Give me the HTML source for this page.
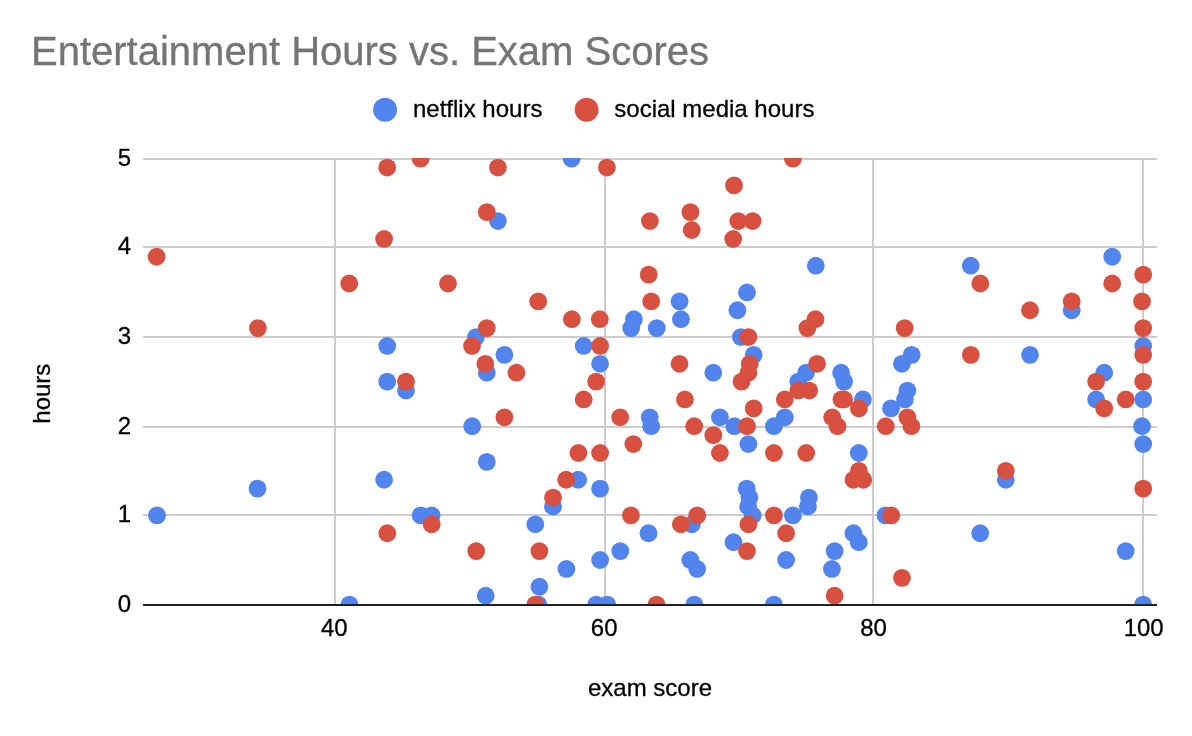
<!DOCTYPE html>
<html><head><meta charset="utf-8"><title>Entertainment Hours vs. Exam Scores</title>
<style>
html,body{margin:0;padding:0;background:#fff;}
body{width:1192px;height:736px;overflow:hidden;}
svg{display:block;}
text{font-family:"Liberation Sans",sans-serif;filter:grayscale(1);}
.k{stroke:#000;stroke-width:0.3px;}
</style></head><body>
<svg width="1192" height="736" viewBox="0 0 1192 736">
<rect x="0" y="0" width="1192" height="736" fill="#ffffff"/>
<defs><clipPath id="plot"><rect x="143" y="158" width="1014" height="447"/></clipPath></defs>
<text x="31" y="64.7" font-size="40" fill="#757575" stroke="#757575" stroke-width="0.35">Entertainment Hours vs. Exam Scores</text>
<circle cx="385.1" cy="109.7" r="12" fill="#5184ec"/>
<text x="413" y="116.6" font-size="24" fill="#000" class="k">netflix hours</text>
<circle cx="586.6" cy="109.7" r="12" fill="#d85140"/>
<text x="614.3" y="116.6" font-size="24" fill="#000" class="k">social media hours</text>

<rect x="143" y="158" width="1014" height="2" fill="#cccccc"/>
<rect x="143" y="246" width="1014" height="2" fill="#cccccc"/>
<rect x="143" y="336" width="1014" height="2" fill="#cccccc"/>
<rect x="143" y="426" width="1014" height="2" fill="#cccccc"/>
<rect x="143" y="514" width="1014" height="2" fill="#cccccc"/>
<rect x="334" y="158" width="2" height="447" fill="#cccccc"/>
<rect x="604" y="158" width="2" height="447" fill="#cccccc"/>
<rect x="872" y="158" width="2" height="447" fill="#cccccc"/>
<rect x="1142" y="158" width="2" height="447" fill="#cccccc"/>
<g clip-path="url(#plot)">
<circle cx="571.6" cy="158.65" r="8.9" fill="#5184ec"/>
<circle cx="497.9" cy="221.08" r="8.9" fill="#5184ec"/>
<circle cx="679.6" cy="301.35" r="8.9" fill="#5184ec"/>
<circle cx="680.9" cy="319.19" r="8.9" fill="#5184ec"/>
<circle cx="633.9" cy="319.19" r="8.9" fill="#5184ec"/>
<circle cx="631.2" cy="328.11" r="8.9" fill="#5184ec"/>
<circle cx="656.8" cy="328.11" r="8.9" fill="#5184ec"/>
<circle cx="737.4" cy="310.27" r="8.9" fill="#5184ec"/>
<circle cx="747.0" cy="292.44" r="8.9" fill="#5184ec"/>
<circle cx="476.0" cy="337.03" r="8.9" fill="#5184ec"/>
<circle cx="815.8" cy="265.68" r="8.9" fill="#5184ec"/>
<circle cx="970.7" cy="265.68" r="8.9" fill="#5184ec"/>
<circle cx="740.9" cy="337.03" r="8.9" fill="#5184ec"/>
<circle cx="1112.2" cy="256.76" r="8.9" fill="#5184ec"/>
<circle cx="1071.7" cy="310.27" r="8.9" fill="#5184ec"/>
<circle cx="387.2" cy="345.95" r="8.9" fill="#5184ec"/>
<circle cx="387.2" cy="381.62" r="8.9" fill="#5184ec"/>
<circle cx="406.0" cy="390.54" r="8.9" fill="#5184ec"/>
<circle cx="384.1" cy="479.73" r="8.9" fill="#5184ec"/>
<circle cx="257.5" cy="488.65" r="8.9" fill="#5184ec"/>
<circle cx="157.0" cy="515.41" r="8.9" fill="#5184ec"/>
<circle cx="420.7" cy="515.41" r="8.9" fill="#5184ec"/>
<circle cx="431.6" cy="515.41" r="8.9" fill="#5184ec"/>
<circle cx="504.4" cy="354.87" r="8.9" fill="#5184ec"/>
<circle cx="486.8" cy="372.71" r="8.9" fill="#5184ec"/>
<circle cx="583.7" cy="345.95" r="8.9" fill="#5184ec"/>
<circle cx="600.1" cy="363.79" r="8.9" fill="#5184ec"/>
<circle cx="472.2" cy="426.22" r="8.9" fill="#5184ec"/>
<circle cx="486.8" cy="461.90" r="8.9" fill="#5184ec"/>
<circle cx="578.2" cy="479.73" r="8.9" fill="#5184ec"/>
<circle cx="600.1" cy="488.65" r="8.9" fill="#5184ec"/>
<circle cx="553.0" cy="506.49" r="8.9" fill="#5184ec"/>
<circle cx="713.3" cy="372.71" r="8.9" fill="#5184ec"/>
<circle cx="649.7" cy="417.30" r="8.9" fill="#5184ec"/>
<circle cx="651.2" cy="426.22" r="8.9" fill="#5184ec"/>
<circle cx="719.9" cy="417.30" r="8.9" fill="#5184ec"/>
<circle cx="734.3" cy="426.22" r="8.9" fill="#5184ec"/>
<circle cx="753.7" cy="354.87" r="8.9" fill="#5184ec"/>
<circle cx="806.1" cy="372.71" r="8.9" fill="#5184ec"/>
<circle cx="798.3" cy="381.62" r="8.9" fill="#5184ec"/>
<circle cx="841.1" cy="372.71" r="8.9" fill="#5184ec"/>
<circle cx="844.1" cy="381.62" r="8.9" fill="#5184ec"/>
<circle cx="862.9" cy="399.46" r="8.9" fill="#5184ec"/>
<circle cx="784.8" cy="417.30" r="8.9" fill="#5184ec"/>
<circle cx="773.9" cy="426.22" r="8.9" fill="#5184ec"/>
<circle cx="891.0" cy="408.38" r="8.9" fill="#5184ec"/>
<circle cx="748.4" cy="444.06" r="8.9" fill="#5184ec"/>
<circle cx="858.8" cy="452.98" r="8.9" fill="#5184ec"/>
<circle cx="746.7" cy="488.65" r="8.9" fill="#5184ec"/>
<circle cx="749.4" cy="497.57" r="8.9" fill="#5184ec"/>
<circle cx="808.9" cy="497.57" r="8.9" fill="#5184ec"/>
<circle cx="748.1" cy="506.49" r="8.9" fill="#5184ec"/>
<circle cx="752.6" cy="515.41" r="8.9" fill="#5184ec"/>
<circle cx="807.9" cy="506.49" r="8.9" fill="#5184ec"/>
<circle cx="792.9" cy="515.41" r="8.9" fill="#5184ec"/>
<circle cx="733.5" cy="542.17" r="8.9" fill="#5184ec"/>
<circle cx="786.1" cy="560.00" r="8.9" fill="#5184ec"/>
<circle cx="853.4" cy="533.25" r="8.9" fill="#5184ec"/>
<circle cx="858.8" cy="542.17" r="8.9" fill="#5184ec"/>
<circle cx="834.6" cy="551.09" r="8.9" fill="#5184ec"/>
<circle cx="831.9" cy="568.92" r="8.9" fill="#5184ec"/>
<circle cx="885.5" cy="515.41" r="8.9" fill="#5184ec"/>
<circle cx="773.9" cy="604.60" r="8.9" fill="#5184ec"/>
<circle cx="911.7" cy="354.87" r="8.9" fill="#5184ec"/>
<circle cx="901.9" cy="363.79" r="8.9" fill="#5184ec"/>
<circle cx="907.4" cy="390.54" r="8.9" fill="#5184ec"/>
<circle cx="904.9" cy="399.46" r="8.9" fill="#5184ec"/>
<circle cx="1030.0" cy="354.87" r="8.9" fill="#5184ec"/>
<circle cx="1005.8" cy="479.73" r="8.9" fill="#5184ec"/>
<circle cx="980.2" cy="533.25" r="8.9" fill="#5184ec"/>
<circle cx="1104.2" cy="372.71" r="8.9" fill="#5184ec"/>
<circle cx="1096.1" cy="399.46" r="8.9" fill="#5184ec"/>
<circle cx="1143.2" cy="345.95" r="8.9" fill="#5184ec"/>
<circle cx="1143.2" cy="399.46" r="8.9" fill="#5184ec"/>
<circle cx="1142.0" cy="426.22" r="8.9" fill="#5184ec"/>
<circle cx="1143.2" cy="444.06" r="8.9" fill="#5184ec"/>
<circle cx="1125.7" cy="551.09" r="8.9" fill="#5184ec"/>
<circle cx="1143.1" cy="604.60" r="8.9" fill="#5184ec"/>
<circle cx="349.5" cy="604.60" r="8.9" fill="#5184ec"/>
<circle cx="485.7" cy="595.68" r="8.9" fill="#5184ec"/>
<circle cx="535.3" cy="524.33" r="8.9" fill="#5184ec"/>
<circle cx="566.4" cy="568.92" r="8.9" fill="#5184ec"/>
<circle cx="600.1" cy="560.00" r="8.9" fill="#5184ec"/>
<circle cx="620.3" cy="551.09" r="8.9" fill="#5184ec"/>
<circle cx="648.5" cy="533.25" r="8.9" fill="#5184ec"/>
<circle cx="539.4" cy="586.76" r="8.9" fill="#5184ec"/>
<circle cx="538.3" cy="604.60" r="8.9" fill="#5184ec"/>
<circle cx="596.2" cy="604.60" r="8.9" fill="#5184ec"/>
<circle cx="607.2" cy="604.60" r="8.9" fill="#5184ec"/>
<circle cx="691.9" cy="524.33" r="8.9" fill="#5184ec"/>
<circle cx="690.3" cy="560.00" r="8.9" fill="#5184ec"/>
<circle cx="697.2" cy="568.92" r="8.9" fill="#5184ec"/>
<circle cx="694.3" cy="604.60" r="8.9" fill="#5184ec"/>
<circle cx="387.2" cy="167.57" r="8.9" fill="#d85140"/>
<circle cx="420.6" cy="158.65" r="8.9" fill="#d85140"/>
<circle cx="384.1" cy="238.92" r="8.9" fill="#d85140"/>
<circle cx="156.6" cy="256.76" r="8.9" fill="#d85140"/>
<circle cx="349.2" cy="283.52" r="8.9" fill="#d85140"/>
<circle cx="257.9" cy="328.11" r="8.9" fill="#d85140"/>
<circle cx="497.9" cy="167.57" r="8.9" fill="#d85140"/>
<circle cx="606.9" cy="167.57" r="8.9" fill="#d85140"/>
<circle cx="486.8" cy="212.16" r="8.9" fill="#d85140"/>
<circle cx="734.0" cy="185.41" r="8.9" fill="#d85140"/>
<circle cx="649.9" cy="221.08" r="8.9" fill="#d85140"/>
<circle cx="690.4" cy="212.16" r="8.9" fill="#d85140"/>
<circle cx="691.7" cy="230.00" r="8.9" fill="#d85140"/>
<circle cx="738.3" cy="221.08" r="8.9" fill="#d85140"/>
<circle cx="733.2" cy="238.92" r="8.9" fill="#d85140"/>
<circle cx="448.0" cy="283.52" r="8.9" fill="#d85140"/>
<circle cx="648.7" cy="274.60" r="8.9" fill="#d85140"/>
<circle cx="538.2" cy="301.35" r="8.9" fill="#d85140"/>
<circle cx="651.2" cy="301.35" r="8.9" fill="#d85140"/>
<circle cx="571.9" cy="319.19" r="8.9" fill="#d85140"/>
<circle cx="599.8" cy="319.19" r="8.9" fill="#d85140"/>
<circle cx="486.8" cy="328.11" r="8.9" fill="#d85140"/>
<circle cx="792.9" cy="158.65" r="8.9" fill="#d85140"/>
<circle cx="752.6" cy="221.08" r="8.9" fill="#d85140"/>
<circle cx="815.5" cy="319.19" r="8.9" fill="#d85140"/>
<circle cx="807.4" cy="328.11" r="8.9" fill="#d85140"/>
<circle cx="980.3" cy="283.52" r="8.9" fill="#d85140"/>
<circle cx="1030.0" cy="310.27" r="8.9" fill="#d85140"/>
<circle cx="904.7" cy="328.11" r="8.9" fill="#d85140"/>
<circle cx="748.4" cy="337.03" r="8.9" fill="#d85140"/>
<circle cx="1071.7" cy="301.35" r="8.9" fill="#d85140"/>
<circle cx="1112.2" cy="283.52" r="8.9" fill="#d85140"/>
<circle cx="1143.2" cy="274.60" r="8.9" fill="#d85140"/>
<circle cx="1142.0" cy="301.35" r="8.9" fill="#d85140"/>
<circle cx="1143.2" cy="328.11" r="8.9" fill="#d85140"/>
<circle cx="406.0" cy="381.62" r="8.9" fill="#d85140"/>
<circle cx="472.0" cy="345.95" r="8.9" fill="#d85140"/>
<circle cx="485.3" cy="363.79" r="8.9" fill="#d85140"/>
<circle cx="516.5" cy="372.71" r="8.9" fill="#d85140"/>
<circle cx="600.1" cy="345.95" r="8.9" fill="#d85140"/>
<circle cx="596.1" cy="381.62" r="8.9" fill="#d85140"/>
<circle cx="583.7" cy="399.46" r="8.9" fill="#d85140"/>
<circle cx="504.4" cy="417.30" r="8.9" fill="#d85140"/>
<circle cx="620.2" cy="417.30" r="8.9" fill="#d85140"/>
<circle cx="633.3" cy="444.06" r="8.9" fill="#d85140"/>
<circle cx="578.4" cy="452.98" r="8.9" fill="#d85140"/>
<circle cx="600.1" cy="452.98" r="8.9" fill="#d85140"/>
<circle cx="566.1" cy="479.73" r="8.9" fill="#d85140"/>
<circle cx="553.0" cy="497.57" r="8.9" fill="#d85140"/>
<circle cx="679.5" cy="363.79" r="8.9" fill="#d85140"/>
<circle cx="684.9" cy="399.46" r="8.9" fill="#d85140"/>
<circle cx="694.2" cy="426.22" r="8.9" fill="#d85140"/>
<circle cx="713.3" cy="435.14" r="8.9" fill="#d85140"/>
<circle cx="719.9" cy="452.98" r="8.9" fill="#d85140"/>
<circle cx="630.9" cy="515.41" r="8.9" fill="#d85140"/>
<circle cx="697.2" cy="515.41" r="8.9" fill="#d85140"/>
<circle cx="749.7" cy="363.79" r="8.9" fill="#d85140"/>
<circle cx="748.4" cy="372.71" r="8.9" fill="#d85140"/>
<circle cx="741.5" cy="381.62" r="8.9" fill="#d85140"/>
<circle cx="817.1" cy="363.79" r="8.9" fill="#d85140"/>
<circle cx="798.3" cy="390.54" r="8.9" fill="#d85140"/>
<circle cx="809.2" cy="390.54" r="8.9" fill="#d85140"/>
<circle cx="784.8" cy="399.46" r="8.9" fill="#d85140"/>
<circle cx="753.7" cy="408.38" r="8.9" fill="#d85140"/>
<circle cx="841.4" cy="399.46" r="8.9" fill="#d85140"/>
<circle cx="844.1" cy="399.46" r="8.9" fill="#d85140"/>
<circle cx="858.9" cy="408.38" r="8.9" fill="#d85140"/>
<circle cx="832.2" cy="417.30" r="8.9" fill="#d85140"/>
<circle cx="747.0" cy="426.22" r="8.9" fill="#d85140"/>
<circle cx="837.5" cy="426.22" r="8.9" fill="#d85140"/>
<circle cx="885.8" cy="426.22" r="8.9" fill="#d85140"/>
<circle cx="773.9" cy="452.98" r="8.9" fill="#d85140"/>
<circle cx="806.2" cy="452.98" r="8.9" fill="#d85140"/>
<circle cx="858.9" cy="470.82" r="8.9" fill="#d85140"/>
<circle cx="853.4" cy="479.73" r="8.9" fill="#d85140"/>
<circle cx="863.3" cy="479.73" r="8.9" fill="#d85140"/>
<circle cx="773.9" cy="515.41" r="8.9" fill="#d85140"/>
<circle cx="748.4" cy="524.33" r="8.9" fill="#d85140"/>
<circle cx="786.1" cy="533.25" r="8.9" fill="#d85140"/>
<circle cx="747.0" cy="551.09" r="8.9" fill="#d85140"/>
<circle cx="891.2" cy="515.41" r="8.9" fill="#d85140"/>
<circle cx="834.6" cy="595.68" r="8.9" fill="#d85140"/>
<circle cx="970.8" cy="354.87" r="8.9" fill="#d85140"/>
<circle cx="907.4" cy="417.30" r="8.9" fill="#d85140"/>
<circle cx="911.4" cy="426.22" r="8.9" fill="#d85140"/>
<circle cx="1005.8" cy="470.82" r="8.9" fill="#d85140"/>
<circle cx="902.0" cy="577.84" r="8.9" fill="#d85140"/>
<circle cx="1143.2" cy="354.87" r="8.9" fill="#d85140"/>
<circle cx="1096.1" cy="381.62" r="8.9" fill="#d85140"/>
<circle cx="1143.2" cy="381.62" r="8.9" fill="#d85140"/>
<circle cx="1104.2" cy="408.38" r="8.9" fill="#d85140"/>
<circle cx="1125.7" cy="399.46" r="8.9" fill="#d85140"/>
<circle cx="1143.2" cy="488.65" r="8.9" fill="#d85140"/>
<circle cx="387.3" cy="533.25" r="8.9" fill="#d85140"/>
<circle cx="431.7" cy="524.33" r="8.9" fill="#d85140"/>
<circle cx="476.2" cy="551.09" r="8.9" fill="#d85140"/>
<circle cx="539.4" cy="551.09" r="8.9" fill="#d85140"/>
<circle cx="535.3" cy="604.60" r="8.9" fill="#d85140"/>
<circle cx="656.5" cy="604.60" r="8.9" fill="#d85140"/>
<circle cx="680.9" cy="524.33" r="8.9" fill="#d85140"/>
</g>
<rect x="143" y="604" width="1014" height="2" fill="#222222"/>
<text x="131.2" y="166.3" font-size="24" text-anchor="end" fill="#000" class="k">5</text>
<text x="131.2" y="254.3" font-size="24" text-anchor="end" fill="#000" class="k">4</text>
<text x="131.2" y="344.3" font-size="24" text-anchor="end" fill="#000" class="k">3</text>
<text x="131.2" y="434.3" font-size="24" text-anchor="end" fill="#000" class="k">2</text>
<text x="131.2" y="522.3" font-size="24" text-anchor="end" fill="#000" class="k">1</text>
<text x="131.2" y="612.3" font-size="24" text-anchor="end" fill="#000" class="k">0</text>
<text x="334.3" y="635.8" font-size="24" text-anchor="middle" fill="#000" class="k">40</text>
<text x="604.2" y="635.8" font-size="24" text-anchor="middle" fill="#000" class="k">60</text>
<text x="873.5" y="635.8" font-size="24" text-anchor="middle" fill="#000" class="k">80</text>
<text x="1143.7" y="635.8" font-size="24" text-anchor="middle" fill="#000" class="k">100</text>
<text x="650" y="695.5" font-size="24" text-anchor="middle" fill="#000" class="k">exam score</text>
<text transform="translate(50.2,393.7) rotate(-90)" font-size="24" text-anchor="middle" fill="#000" class="k">hours</text>
</svg></body></html>
